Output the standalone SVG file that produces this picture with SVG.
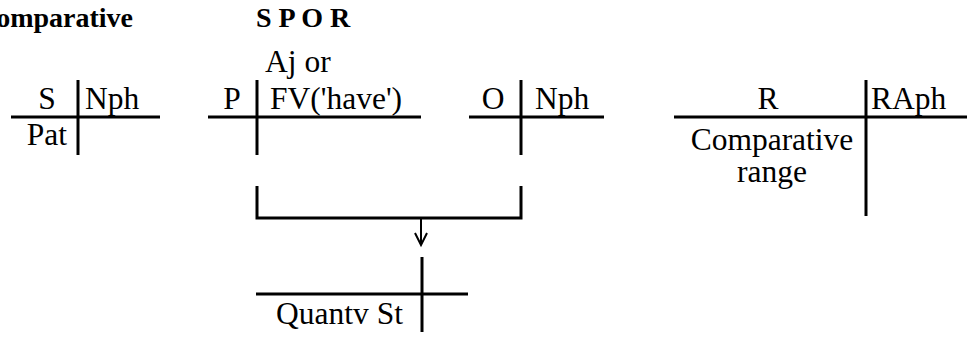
<svg xmlns="http://www.w3.org/2000/svg" width="967" height="337" viewBox="0 0 967 337">
<style>
  .ln{stroke:#000;stroke-width:3;fill:none}
  .ar{stroke:#000;stroke-width:2;fill:none}
  text{font-family:"Liberation Serif","Times New Roman",serif;font-size:31.5px;fill:#000}
  .t{font-weight:bold;font-size:28px}
  .m{text-anchor:middle}
  .e{text-anchor:end}
</style>
<rect width="967" height="337" fill="#fff"/>
<g id="title">
  <text class="t e" x="133" y="27">Comparative</text>
  <text class="t" x="256" y="27">S P O R</text>
</g>
<g id="node-S">
  <line class="ln" x1="11" y1="117" x2="160" y2="117"/>
  <line class="ln" x1="78" y1="80" x2="78" y2="155"/>
  <text class="m" x="47" y="109">S</text>
  <text x="85" y="109">Nph</text>
  <text class="e" x="67" y="145">Pat</text>
</g>
<g id="node-P">
  <line class="ln" x1="208" y1="117" x2="421" y2="117"/>
  <line class="ln" x1="257" y1="80" x2="257" y2="155"/>
  <text class="m" x="232" y="109">P</text>
  <text x="265" y="72">Aj or</text>
  <text x="270" y="109">FV('have')</text>
</g>
<g id="node-O">
  <line class="ln" x1="469" y1="117" x2="604" y2="117"/>
  <line class="ln" x1="521" y1="80" x2="521" y2="155"/>
  <text class="m" x="493" y="109">O</text>
  <text x="535" y="109">Nph</text>
</g>
<g id="node-R">
  <line class="ln" x1="674" y1="117" x2="967" y2="117"/>
  <line class="ln" x1="866" y1="80" x2="866" y2="216"/>
  <text class="m" x="768" y="109">R</text>
  <text x="871" y="109">RAph</text>
  <text class="m" x="772" y="150">Comparative</text>
  <text class="m" x="772" y="182">range</text>
</g>
<g id="node-Quantv">
  <line class="ln" x1="422" y1="257" x2="422" y2="332"/>
  <line class="ln" x1="256" y1="294" x2="468" y2="294"/>
  <text class="e" x="403" y="324">Quantv St</text>
</g>
<g id="connectors">
  <path class="ln" d="M257,186 V218 H521 V186"/>
  <line class="ar" x1="421" y1="218" x2="421" y2="245"/>
  <path class="ar" d="M415,233 L421,245 L427,233"/>
</g>
</svg>
